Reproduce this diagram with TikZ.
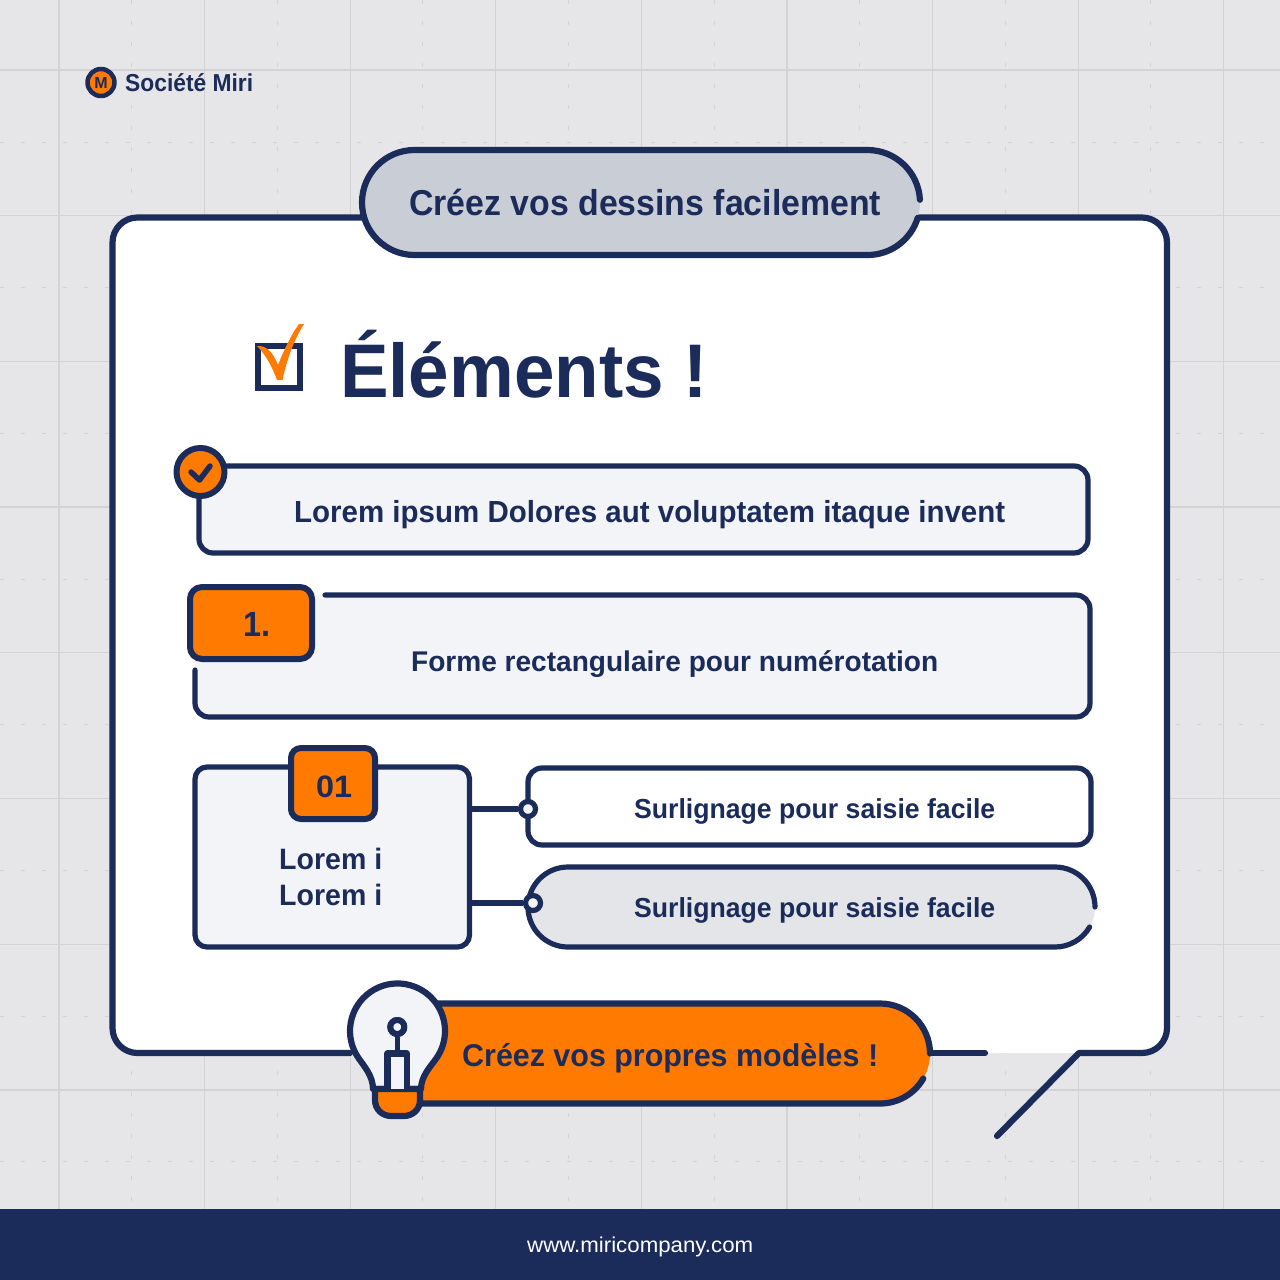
\documentclass[tikz,border=0pt]{standalone}
\usepackage{graphicx}
\usepackage{fontspec}
\setmainfont{Liberation Sans}
\definecolor{navy}{HTML}{1B2B5A}
\definecolor{orangeM}{HTML}{FF7A00}
\definecolor{bgG}{HTML}{E6E6E8}
\definecolor{gridG}{HTML}{D3D3D6}
\definecolor{paleB}{HTML}{F3F4F8}
\definecolor{pillA}{HTML}{C9CED6}
\definecolor{pillB}{HTML}{E3E5E8}
\newsavebox\fitbox
% #1 target width in px, #2 font size, #3 text
\newcommand\fitto[3]{\fontsize{#2}{#2}\selectfont\sbox\fitbox{#3}\pgfmathsetmacro\fitr{#1/\the\wd\fitbox*1pt}\scalebox{\fitr}[1]{\usebox\fitbox}}
\tikzset{
  ink/.style={draw=navy,line width=#1,line cap=round,line join=round},
  ink/.default=5.2pt,
  lab/.style={anchor=base west,inner sep=0pt,text=navy,font=\bfseries},
  boxn/.style={ink,rounded corners=14pt,inner sep=0pt,minimum width=#1},
  dot/.style={circle,ink,inner sep=0pt,minimum size=#1},
  solidg/.style={draw=gridG,line width=1.3pt},
  dashg/.style={draw=gridG,line width=1pt,dash pattern=on 4pt off 17pt}
}
\begin{document}
\begin{tikzpicture}[x=1pt,y=-1pt]
\useasboundingbox (0,0) rectangle (1280,1280);
\fill[bgG] (0,0) rectangle (1280,1280);
% grid
\foreach \k in {0,...,8}{
  \pgfmathsetmacro\gx{59+145.6*\k}
  \draw[solidg] (\gx,0) -- (\gx,1209);
  \pgfmathsetmacro\dx{131.7+145.6*\k}
  \draw[dashg] (\dx,0) -- (\dx,1209);
}
\foreach \k in {0,...,7}{
  \pgfmathsetmacro\gy{70+145.7*\k}
  \draw[solidg] (0,\gy) -- (1280,\gy);
  \pgfmathsetmacro\dy{142+145.7*\k}
  \draw[dashg] (0,\dy) -- (1280,\dy);
}
% footer
\fill[navy] (0,1209) rectangle (1280,1280);
\node[anchor=base west,inner sep=0pt,text=white] (url) at (527,1252) {\fitto{226}{21.5pt}{www.miricompany.com}};
% logo
\node[dot=27pt,line width=4.5pt,fill=orangeM,text=navy,font=\bfseries\fontsize{16pt}{16pt}\selectfont] (logo) at (101,82.5) {M};
\node[lab] (brand) at (125,91) {\fitto{128}{24.5pt}{Société Miri}};
% main panel
\fill[white,rounded corners=25pt] (112.5,217.5) rectangle (1167,1053);
\draw[ink=6.2pt] (985,1053) -- (930,1053);
\draw[ink=6.2pt] (350,1053) -- (137.5,1053) arc[start angle=270,end angle=180,radius=25pt] -- (112.5,242.5) arc[start angle=180,end angle=90,radius=25pt] -- (1142,217.5) arc[start angle=90,end angle=0,radius=25pt] -- (1167,1028) arc[start angle=0,end angle=-90,radius=25pt] -- (1079,1053) -- (997,1136);
% top pill
\fill[pillA] (414.5,150) -- (867.5,150) arc[start angle=90,end angle=-90,radius=52.5pt] -- (414.5,255) arc[start angle=270,end angle=90,radius=52.5pt] -- cycle;
\draw[ink=6.2pt] (867.5,255) arc[start angle=-90,end angle=-17,radius=52.5pt]
  (867.5,255) -- (414.5,255) arc[start angle=270,end angle=90,radius=52.5pt] -- (867.5,150) arc[start angle=90,end angle=3,radius=52.5pt];
\node[lab] (title) at (409,215.5) {\fitto{472}{36pt}{Créez vos dessins facilement}};
% heading
\draw[ink=6pt,line cap=butt,line join=miter] (258,346) rectangle (300,388);
\fill[orangeM] (257,346) .. controls (266,345) and (273,352) .. (278,365) .. controls (284,350) and (291,335) .. (299,324) -- (304,324) .. controls (295,338) and (287,358) .. (282.5,380) -- (277,380) .. controls (272,366) and (265,354) .. (257,346) -- cycle;
\node[lab] (head) at (340,397) {\fitto{368}{76pt}{Éléments !}};
% bar 1
\node[boxn=889pt,minimum height=87pt,fill=paleB] (bar1) at (643.5,509.5) {};
\node[lab] (bar1t) at (294,522) {\fitto{711}{30.5pt}{Lorem ipsum Dolores aut voluptatem itaque invent}};
\node[dot=48pt,line width=6pt,fill=orangeM] (chk) at (200.5,472) {};
\draw[ink=5.5pt] (191,472) -- (199.5,480) -- (210,466);
% bar 2
\fill[paleB,rounded corners=14pt] (195,595) rectangle (1090,717);
\draw[ink] (325,595) -- (1076,595) arc[start angle=90,end angle=0,radius=14pt] -- (1090,703) arc[start angle=0,end angle=-90,radius=14pt] -- (209,717) arc[start angle=270,end angle=180,radius=14pt] -- (195,670);
\node[ink=6pt,rounded corners=12pt,minimum width=122pt,minimum height=72pt,inner sep=0pt,fill=orangeM] (num1) at (251,623) {};
\node[lab] (num1t) at (243,636) {\fitto{27}{35pt}{1.}};
\node[lab] (bar2t) at (411,671) {\fitto{527}{28.5pt}{Forme rectangulaire pour numérotation}};
% lower-left card
\node[ink,rounded corners=12pt,minimum width=274.5pt,minimum height=180pt,inner sep=0pt,fill=paleB] (card) at (332.25,857) {};
\node[ink=6pt,rounded corners=10pt,minimum width=84pt,minimum height=71pt,inner sep=0pt,fill=orangeM] (num2) at (333,783.5) {};
\node[lab] (num2t) at (316,797) {\fitto{36}{31pt}{01}};
\node[lab] (cardA) at (279,869) {\fitto{103}{29.5pt}{Lorem i}};
\node[lab] (cardB) at (279,905) {\fitto{103}{29.5pt}{Lorem i}};
% right rows
\node[boxn=563pt,minimum height=77pt,fill=white] (row1) at (809.5,806.5) {};
\fill[pillB] (568,867) -- (1055,867) arc[start angle=90,end angle=-90,radius=40pt] -- (568,947) arc[start angle=270,end angle=90,radius=40pt] -- cycle;
\draw[ink] (1055,947) arc[start angle=-90,end angle=-30,radius=40pt]
  (1055,947) -- (568,947) arc[start angle=270,end angle=90,radius=40pt] -- (1055,867) arc[start angle=90,end angle=0,radius=40pt];
\node[dot=15pt,fill=paleB] (c1) at (528,809) {};
\node[dot=15pt,fill=paleB] (c2) at (533,903) {};
\draw[ink,line cap=butt] (card.east |- c1) -- (c1);
\draw[ink,line cap=butt] (card.east |- c2) -- (c2);
\node[lab] (row1t) at (634,818) {\fitto{361}{27.5pt}{Surlignage pour saisie facile}};
\node[lab] (row2t) at (634,917) {\fitto{361}{27.5pt}{Surlignage pour saisie facile}};
% bottom pill
\fill[orangeM] (400,1003.5) -- (880,1003.5) arc[start angle=90,end angle=-90,radius=50pt] -- (400,1103.5) -- cycle;
\draw[ink=6.2pt] (880,1103.5) arc[start angle=-90,end angle=-30,radius=50pt]
  (880,1103.5) -- (410,1103.5) (420,1003.5) -- (880,1003.5) arc[start angle=90,end angle=0,radius=50pt];
\node[lab] (cta) at (462,1066) {\fitto{416}{31.5pt}{Créez vos propres modèles !}};
% bulb
\draw[ink=6.2pt,fill=paleB] (373,1089) .. controls (373,1076) and (364,1066) .. (358.6,1058.2) arc[start angle=215,end angle=-35,radius=47.5pt] .. controls (431,1066) and (421,1076) .. (421,1089) -- cycle;
\draw[ink=6.2pt,fill=orangeM] (375,1089) -- (420,1089) -- (420,1100) .. controls (420,1110) and (412,1116) .. (404,1116) -- (391,1116) .. controls (383,1116) and (375,1110) .. (375,1100) -- cycle;
\draw[ink=6.2pt,fill=paleB] (387.5,1089) -- (387.5,1053.5) -- (407,1053.5) -- (407,1089);
\node[dot=14pt,line width=6pt,fill=paleB] (knob) at (397.3,1027) {};
\draw[ink,line cap=butt] (knob) -- (397.3,1053.5);
\node[dot=14pt,line width=6pt,fill=paleB] at (knob) {};
\end{tikzpicture}
\end{document}
